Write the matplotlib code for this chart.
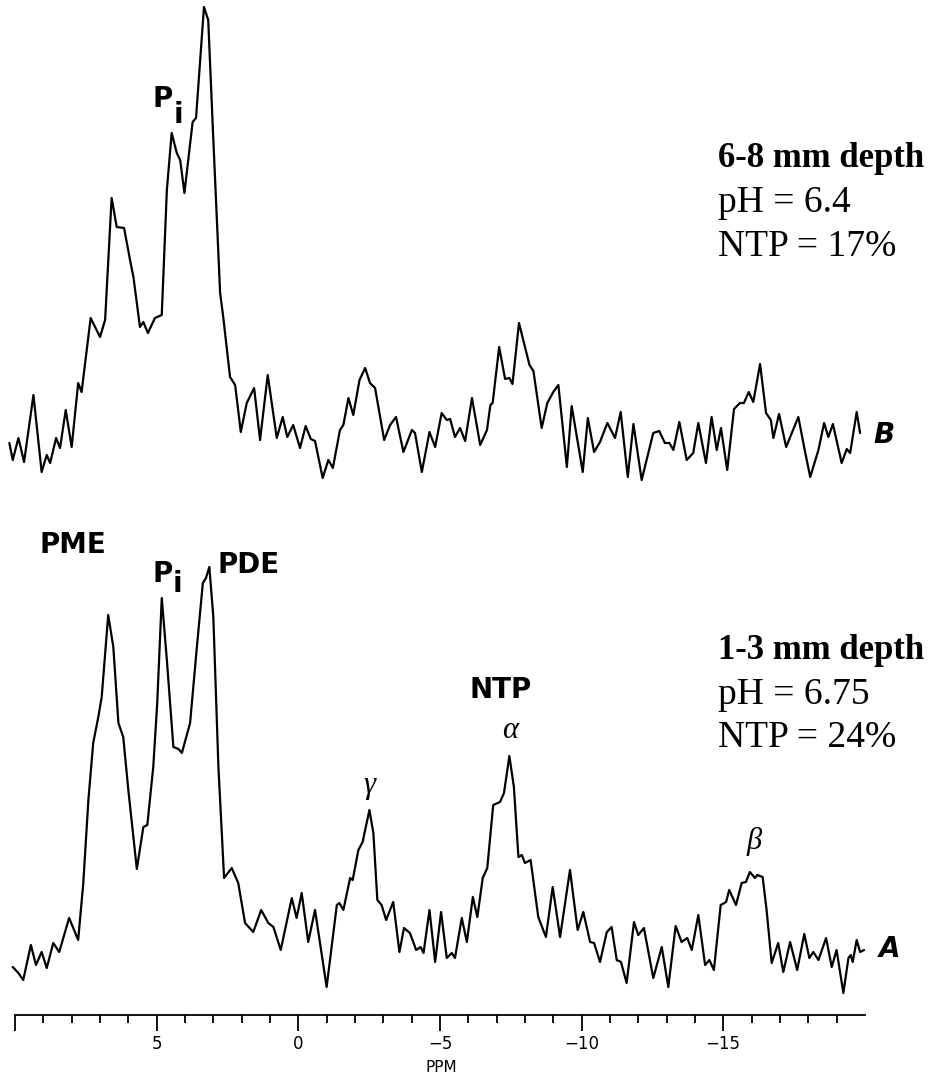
import matplotlib
matplotlib.use("Agg")
import matplotlib.pyplot as plt
from matplotlib.ticker import FixedLocator, NullFormatter

# ---------------- data (chemical shift in ppm, intensity in arbitrary units) ----------------
ppm_B = [10.20, 10.08, 9.88, 9.68, 9.35, 9.06, 8.88, 8.76, 8.55, 8.41, 8.21, 8.00, 7.77, 7.65,
         7.33, 7.00, 6.82, 6.59, 6.41, 6.15, 5.94, 5.82, 5.59, 5.47, 5.31, 5.06, 4.82, 4.64,
         4.47, 4.29, 4.17, 4.02, 3.73, 3.61, 3.33, 3.18, 3.01, 2.76, 2.65, 2.41, 2.23, 2.03,
         1.82, 1.56, 1.35, 1.08, 0.76, 0.55, 0.39, 0.18, -0.06, -0.26, -0.44, -0.59, -0.86,
         -1.06, -1.22, -1.47, -1.59, -1.77, -1.94, -2.16, -2.36, -2.53, -2.71, -3.03, -3.24,
         -3.45, -3.71, -4.01, -4.12, -4.36, -4.63, -4.83, -5.06, -5.24, -5.36, -5.53, -5.71,
         -5.89, -6.13, -6.42, -6.66, -6.78, -6.86, -7.09, -7.30, -7.45, -7.56, -7.79, -8.00,
         -8.16, -8.30, -8.59, -8.79, -9.00, -9.18, -9.48, -9.65, -10.04, -10.22, -10.44,
         -10.65, -10.91, -11.18, -11.38, -11.63, -11.83, -12.12, -12.53, -12.74, -12.94,
         -13.10, -13.24, -13.45, -13.71, -13.94, -14.12, -14.39, -14.59, -14.77, -14.92,
         -15.14, -15.38, -15.59, -15.73, -15.90, -16.06, -16.30, -16.51, -16.68, -16.77,
         -16.97, -17.22, -17.42, -17.65, -17.89, -18.07, -18.36, -18.56, -18.71, -18.87,
         -19.18, -19.36, -19.48, -19.71, -19.83]
int_B = [47, 30, 52, 28, 95, 18, 35, 27, 52, 42, 80, 43, 107, 98,
         172, 153, 170, 292, 263, 262, 230, 213, 163, 168, 157, 172, 175, 300,
         357, 337, 330, 297, 368, 372, 483, 470, 357, 197, 173, 113, 105, 58,
         87, 102, 50, 115, 52, 73, 53, 65, 42, 64, 51, 49, 12,
         30, 22, 60, 65, 92, 75, 110, 122, 107, 102, 50, 65,
         73, 38, 60, 57, 18, 58, 43, 77, 70, 71, 53, 62,
         49, 92, 45, 60, 85, 87, 143, 111, 112, 106, 167, 143,
         125, 119, 62, 87, 98, 105, 23, 84, 18, 72, 38,
         48, 67, 52, 78, 13, 66, 10, 57, 59, 47,
         47, 40, 68, 30, 37, 67, 27, 73, 40, 62,
         20, 81, 87, 87, 98, 88, 126, 77, 70, 52,
         76, 43, 57, 73, 38, 13, 40, 67, 53, 66,
         27, 41, 37, 78, 57]

ppm_A = [10.08, 9.88, 9.71, 9.44, 9.26, 9.06, 8.88, 8.65, 8.44, 8.09, 7.77, 7.59, 7.41, 7.24,
         7.06, 6.94, 6.71, 6.53, 6.35, 6.18, 6.00, 5.70, 5.47, 5.33, 5.12, 4.98, 4.82, 4.64,
         4.41, 4.23, 4.11, 3.82, 3.59, 3.37, 3.26, 3.14, 3.00, 2.82, 2.62, 2.35, 2.12, 1.88,
         1.59, 1.31, 1.06, 0.88, 0.62, 0.23, 0.06, -0.12, -0.35, -0.59, -1.00, -1.36, -1.45,
         -1.59, -1.83, -1.92, -2.12, -2.27, -2.51, -2.65, -2.79, -2.94, -3.10, -3.35, -3.57,
         -3.73, -3.94, -4.16, -4.32, -4.42, -4.63, -4.83, -5.04, -5.24, -5.42, -5.53, -5.77,
         -5.95, -6.16, -6.32, -6.51, -6.67, -6.88, -7.12, -7.26, -7.45, -7.61, -7.77, -7.89,
         -8.00, -8.20, -8.47, -8.74, -8.98, -9.24, -9.59, -9.86, -10.06, -10.30, -10.44,
         -10.65, -10.89, -11.06, -11.24, -11.39, -11.59, -11.85, -12.00, -12.20, -12.53,
         -12.83, -13.06, -13.32, -13.53, -13.73, -13.89, -14.12, -14.36, -14.51, -14.67,
         -14.91, -15.10, -15.21, -15.45, -15.65, -15.80, -15.94, -16.12, -16.20, -16.39,
         -16.53, -16.71, -16.94, -17.12, -17.36, -17.61, -17.86, -18.04, -18.18, -18.36,
         -18.63, -18.83, -19.00, -19.24, -19.42, -19.50, -19.57, -19.71, -19.83, -19.97]
int_A = [33, 27, 20, 55, 35, 48, 32, 57, 48, 82, 60, 117, 200, 257,
         283, 303, 385, 353, 277, 263, 210, 131, 173, 175, 233, 297, 402, 340,
         253, 251, 247, 277, 350, 417, 422, 433, 383, 233, 122, 132, 117, 77,
         68, 90, 77, 73, 50, 102, 82, 107, 58, 90, 13, 95, 97,
         90, 122, 120, 150, 158, 190, 167, 100, 95, 80, 98, 48,
         72, 67, 50, 53, 47, 90, 38, 88, 42, 47, 42, 82,
         58, 103, 83, 122, 132, 195, 198, 207, 244, 213, 143, 145,
         137, 140, 83, 63, 113, 63, 130, 70, 88, 58, 57,
         38, 68, 73, 40, 38, 17, 78, 65, 72, 22,
         53, 13, 74, 58, 62, 50, 85, 35, 40, 30,
         95, 98, 110, 95, 117, 118, 128, 122, 125, 123,
         90, 37, 57, 28, 58, 30, 66, 42, 48, 40,
         62, 33, 50, 7, 42, 45, 38, 60, 48, 50]

major_ticks = [10, 5, 0, -5, -10, -15]
tick_labels = ["", "5", "0", "\u22125", "\u221210", "\u221215"]
minor_ticks = list(range(9, -20, -1))

offset_A = 77
offset_B = 587

# ---------------- figure ----------------
fig = plt.figure(figsize=(9.36, 10.77), dpi=100)
ax = fig.add_axes([0, 0, 1, 1])
ax.set_xlim(10.53, -22.51)
ax.set_ylim(0, 1077)

ax.plot(ppm_B, [v + offset_B for v in int_B], color="black", lw=1.6,
        solid_joinstyle="round", solid_capstyle="round")
ax.plot(ppm_A, [v + offset_A for v in int_A], color="black", lw=1.6,
        solid_joinstyle="round", solid_capstyle="round")

# ruler axis
for s in ["top", "left", "right"]:
    ax.spines[s].set_visible(False)
ax.spines["bottom"].set_position(("data", 62))
ax.spines["bottom"].set_bounds(10, -20)
ax.spines["bottom"].set_linewidth(1.3)
ax.xaxis.set_major_locator(FixedLocator(major_ticks))
ax.set_xticklabels(tick_labels)
ax.xaxis.set_minor_locator(FixedLocator(minor_ticks))
ax.xaxis.set_minor_formatter(NullFormatter())
ax.tick_params(axis="x", which="major", direction="out", length=11.5, width=1.3,
               labelsize=12, pad=3)
ax.tick_params(axis="x", which="minor", direction="out", length=6, width=1.3)
ax.set_yticks([])
ax.text(-5.06, 5, "PPM", ha="center", va="baseline", fontsize=11, family="DejaVu Sans")

sans_b = dict(family="DejaVu Sans", fontweight="bold", color="black")
serif = dict(family="Liberation Serif", color="black")

# peak labels, spectrum B
ax.text(5.13, 970, "P", ha="left", va="baseline", fontsize=20, **sans_b)
ax.text(4.39, 954, "i", ha="left", va="baseline", fontsize=20, **sans_b)
# peak labels, spectrum A
ax.text(9.12, 524, "PME", ha="left", va="baseline", fontsize=20, **sans_b)
ax.text(5.16, 495, "P", ha="left", va="baseline", fontsize=20, **sans_b)
ax.text(4.42, 485, "i", ha="left", va="baseline", fontsize=20, **sans_b)
ax.text(2.87, 504, "PDE", ha="left", va="baseline", fontsize=20, **sans_b)
ax.text(-6.06, 379, "NTP", ha="left", va="baseline", fontsize=20, **sans_b)
ax.text(-7.47, 346, "\u03b1", ha="center", va="center", fontsize=22, style="italic", **serif)
ax.text(-2.50, 292, "\u03b3", ha="center", va="center", fontsize=22, style="italic", **serif)
ax.text(-16.09, 235, "\u03b2", ha="center", va="center", fontsize=22, style="italic", **serif)

# trace labels
ax.text(-20.29, 634, "B", ha="left", va="baseline", fontsize=20, style="italic", **sans_b)
ax.text(-20.50, 120, "A", ha="left", va="baseline", fontsize=20, style="italic", **sans_b)

# annotation blocks
ax.text(-14.81, 910, "6-8 mm depth", ha="left", va="baseline", fontsize=25, fontweight="bold", **serif)
ax.text(-14.81, 865, "pH = 6.4", ha="left", va="baseline", fontsize=27, **serif)
ax.text(-14.81, 821, "NTP = 17%", ha="left", va="baseline", fontsize=27, **serif)
ax.text(-14.81, 418, "1-3 mm depth", ha="left", va="baseline", fontsize=25, fontweight="bold", **serif)
ax.text(-14.81, 373, "pH = 6.75", ha="left", va="baseline", fontsize=27, **serif)
ax.text(-14.81, 330, "NTP = 24%", ha="left", va="baseline", fontsize=27, **serif)

fig.savefig("out.png", dpi=100, facecolor="white")
